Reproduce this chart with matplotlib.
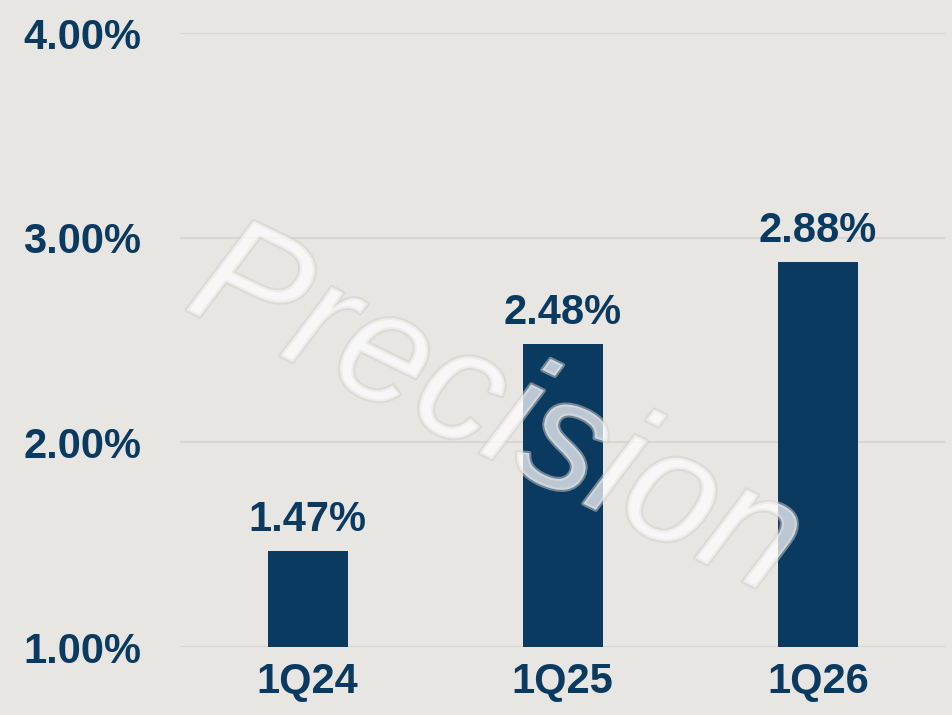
import matplotlib
matplotlib.use("Agg")
import matplotlib.pyplot as plt
import matplotlib.patheffects as pe
from matplotlib.ticker import FuncFormatter

categories = ["1Q24", "1Q25", "1Q26"]
values = [1.47, 2.48, 2.88]
yticks = [1.0, 2.0, 3.0, 4.0]

navy = "#0b3a61"
bg = "#e7e6e3"

plt.rcParams['font.family'] = ['Liberation Sans', 'DejaVu Sans']
fig = plt.figure(figsize=(9.53, 7.15), dpi=100, facecolor=bg)
ax = fig.add_axes([0.189, 0.0951, 0.803, 0.8587])
ax.set_facecolor("none")

# faint watermark
fig.text(0.52, 0.42, "Precision", fontsize=115, color="white", alpha=0.45,
         rotation=-26, ha="center", va="center", style="italic",
         path_effects=[pe.withStroke(linewidth=3, foreground="#d2d0cd", alpha=0.5)],
         zorder=5)

x = list(range(len(categories)))
ax.bar(x, [v - 1.0 for v in values], bottom=1.0, width=0.314, color=navy, zorder=3)
for xi, v in zip(x, values):
    ax.text(xi, v + 0.098, f"{v:.2f}%", ha="center", va="baseline", fontsize=30,
            fontweight="bold", color=navy, zorder=4)

ax.set_xlim(-0.5, 2.5)
ax.set_ylim(1.0, 4.0)
ax.set_yticks(yticks)
ax.yaxis.set_major_formatter(FuncFormatter(lambda v, p: f"{v:.2f}%"))
ax.set_xticks(x)
ax.set_xticklabels(categories)
ax.tick_params(axis="both", length=0, labelsize=30, labelcolor=navy)
ax.tick_params(axis="y", pad=28)
ax.tick_params(axis="x", pad=11)
for lab in ax.get_xticklabels() + ax.get_yticklabels():
    lab.set_fontweight("bold")
ax.grid(axis="y", color="#d7d6d3", linewidth=1.5, zorder=1)
for s in ax.spines.values():
    s.set_visible(False)

fig.savefig("out.png", dpi=100, facecolor=bg)
